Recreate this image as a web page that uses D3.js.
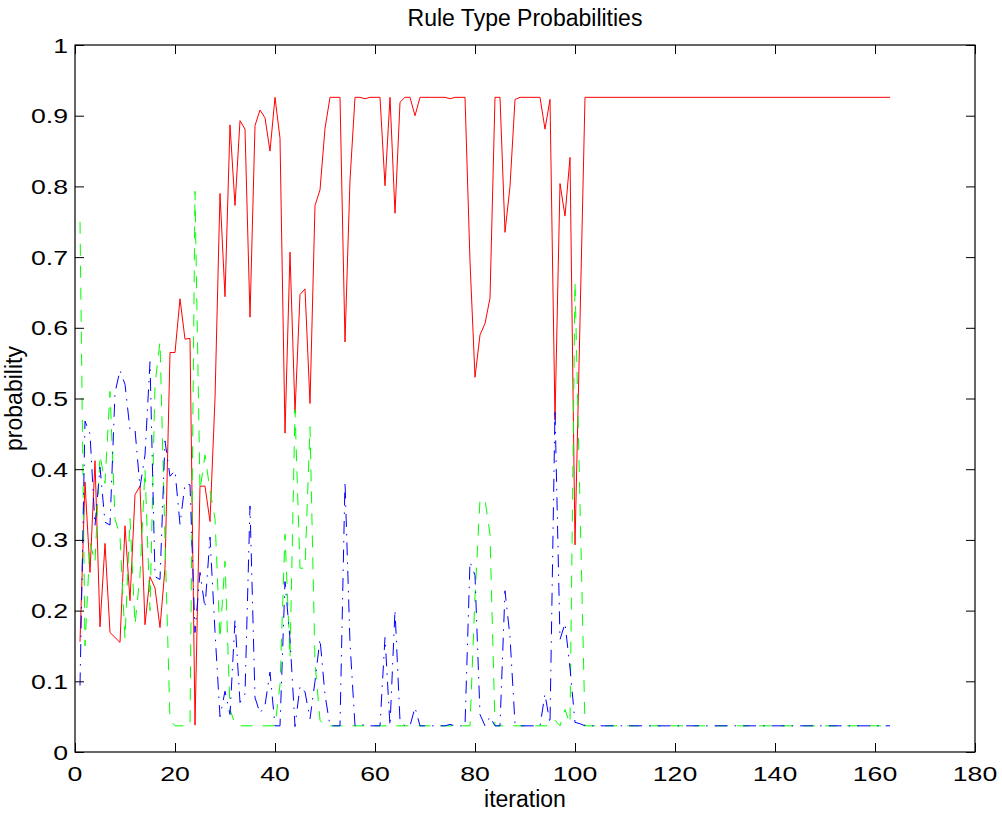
<!DOCTYPE html>
<html>
<head>
<meta charset="utf-8">
<script src="https://cdn.jsdelivr.net/npm/d3@7"></script>
<style>
  body { margin: 0; background: #fff; }
  text { font-family: "Liberation Sans", Arial, sans-serif; fill: #000; }
</style>
</head>
<body>
<div id="chart"></div>
<script>
// probability of each rule type per iteration (iteration 1..163)
var redSeries = [
  0.156, 0.382, 0.254, 0.412, 0.177, 0.295, 0.169, 0.162, 0.155, 0.320,
  0.214, 0.364, 0.376, 0.180, 0.248, 0.232, 0.176, 0.260, 0.565, 0.565,
  0.641, 0.584, 0.585, 0.038, 0.376, 0.376, 0.326, 0.500, 0.790, 0.644,
  0.887, 0.773, 0.893, 0.881, 0.615, 0.886, 0.908, 0.897, 0.850, 0.926,
  0.868, 0.451, 0.707, 0.480, 0.647, 0.655, 0.493, 0.773, 0.795, 0.882,
  0.926, 0.926, 0.926, 0.580, 0.809, 0.926, 0.926, 0.924, 0.926, 0.926,
  0.926, 0.801, 0.926, 0.762, 0.919, 0.926, 0.926, 0.900, 0.926, 0.926,
  0.926, 0.926, 0.926, 0.926, 0.924, 0.926, 0.926, 0.926, 0.694, 0.530,
  0.590, 0.606, 0.642, 0.926, 0.926, 0.735, 0.800, 0.923, 0.926, 0.926,
  0.926, 0.926, 0.926, 0.881, 0.923, 0.470, 0.804, 0.758, 0.841, 0.293,
  0.610, 0.926, 0.926, 0.926, 0.926, 0.926, 0.926, 0.926, 0.926, 0.926,
  0.926, 0.926, 0.926, 0.926, 0.926, 0.926, 0.926, 0.926, 0.926, 0.926,
  0.926, 0.926, 0.926, 0.926, 0.926, 0.926, 0.926, 0.926, 0.926, 0.926,
  0.926, 0.926, 0.926, 0.926, 0.926, 0.926, 0.926, 0.926, 0.926, 0.926,
  0.926, 0.926, 0.926, 0.926, 0.926, 0.926, 0.926, 0.926, 0.926, 0.926,
  0.926, 0.926, 0.926, 0.926, 0.926, 0.926, 0.926, 0.926, 0.926, 0.926,
  0.926, 0.926, 0.926
];

var greenSeries = [
  0.750, 0.150, 0.296, 0.268, 0.420, 0.380, 0.510, 0.330, 0.305, 0.160,
  0.330, 0.180, 0.250, 0.400, 0.200, 0.520, 0.580, 0.300, 0.045, 0.037,
  0.037, 0.037, 0.037, 0.793, 0.370, 0.420, 0.370, 0.330, 0.160, 0.270,
  0.060, 0.040, 0.037, 0.037, 0.037, 0.037, 0.037, 0.037, 0.037, 0.037,
  0.095, 0.308, 0.133, 0.484, 0.260, 0.260, 0.460, 0.127, 0.045, 0.037,
  0.037, 0.037, 0.037, 0.037, 0.037, 0.037, 0.037, 0.037, 0.037, 0.037,
  0.037, 0.037, 0.037, 0.037, 0.037, 0.037, 0.037, 0.037, 0.037, 0.037,
  0.037, 0.037, 0.037, 0.037, 0.037, 0.037, 0.037, 0.037, 0.037, 0.220,
  0.357, 0.357, 0.308, 0.037, 0.037, 0.037, 0.037, 0.037, 0.037, 0.037,
  0.037, 0.037, 0.037, 0.037, 0.037, 0.045, 0.037, 0.060, 0.040, 0.665,
  0.350, 0.037, 0.037, 0.037, 0.037, 0.037, 0.037, 0.037, 0.037, 0.037,
  0.037, 0.037, 0.037, 0.037, 0.037, 0.037, 0.037, 0.037, 0.037, 0.037,
  0.037, 0.037, 0.037, 0.037, 0.037, 0.037, 0.037, 0.037, 0.037, 0.037,
  0.037, 0.037, 0.037, 0.037, 0.037, 0.037, 0.037, 0.037, 0.037, 0.037,
  0.037, 0.037, 0.037, 0.037, 0.037, 0.037, 0.037, 0.037, 0.037, 0.037,
  0.037, 0.037, 0.037, 0.037, 0.037, 0.037, 0.037, 0.037, 0.037, 0.037,
  0.037, 0.037, 0.037
];

var blueSeries = [
  0.094, 0.468, 0.450, 0.320, 0.403, 0.325, 0.321, 0.508, 0.540, 0.520,
  0.456, 0.456, 0.374, 0.420, 0.552, 0.248, 0.244, 0.440, 0.390, 0.398,
  0.322, 0.379, 0.378, 0.169, 0.254, 0.204, 0.304, 0.170, 0.050, 0.086,
  0.053, 0.187, 0.070, 0.082, 0.348, 0.077, 0.055, 0.066, 0.113, 0.037,
  0.037, 0.241, 0.160, 0.036, 0.093, 0.085, 0.047, 0.100, 0.160, 0.081,
  0.037, 0.037, 0.037, 0.383, 0.154, 0.037, 0.037, 0.039, 0.037, 0.037,
  0.037, 0.162, 0.037, 0.201, 0.044, 0.037, 0.037, 0.063, 0.037, 0.037,
  0.037, 0.037, 0.037, 0.037, 0.039, 0.037, 0.037, 0.037, 0.269, 0.250,
  0.053, 0.037, 0.050, 0.037, 0.037, 0.228, 0.163, 0.040, 0.037, 0.037,
  0.037, 0.037, 0.037, 0.082, 0.040, 0.485, 0.159, 0.182, 0.119, 0.042,
  0.040, 0.037, 0.037, 0.037, 0.037, 0.037, 0.037, 0.037, 0.037, 0.037,
  0.037, 0.037, 0.037, 0.037, 0.037, 0.037, 0.037, 0.037, 0.037, 0.037,
  0.037, 0.037, 0.037, 0.037, 0.037, 0.037, 0.037, 0.037, 0.037, 0.037,
  0.037, 0.037, 0.037, 0.037, 0.037, 0.037, 0.037, 0.037, 0.037, 0.037,
  0.037, 0.037, 0.037, 0.037, 0.037, 0.037, 0.037, 0.037, 0.037, 0.037,
  0.037, 0.037, 0.037, 0.037, 0.037, 0.037, 0.037, 0.037, 0.037, 0.037,
  0.037, 0.037, 0.037
];

var xTicks = [0, 20, 40, 60, 80, 100, 120, 140, 160, 180];
var yTicks = [0, 0.1, 0.2, 0.3, 0.4, 0.5, 0.6, 0.7, 0.8, 0.9, 1];

var margin = { top: 45, right: 27, bottom: 65, left: 75 };
var width = 1002 - margin.left - margin.right;
var height = 817 - margin.top - margin.bottom;
var tickLen = 9;

var svg = d3.select("#chart")
  .append("svg")
  .attr("width", 1002)
  .attr("height", 817)
  .append("g")
  .attr("transform", `translate(${margin.left},${margin.top})`);

var x = d3.scaleLinear().domain([0, 180]).range([0, width]);
var y = d3.scaleLinear().domain([0, 1]).range([height, 0]);

function fmt(d) { return d3.format("~g")(d); }

// series lines: red solid, green dashed, blue dash-dot
var series = [
  { values: redSeries, color: "#ff0000", dash: null },
  { values: greenSeries, color: "#00ff00", dash: "12,10" },
  { values: blueSeries, color: "#0000ff", dash: "13,7,1.5,7" }
];

var line = d3.line()
  .x(function(d, i) { return x(i + 1); })
  .y(function(d) { return y(d); });

svg.selectAll(".series")
  .data(series)
  .enter().append("path")
  .attr("class", "series")
  .attr("d", function(d) { return line(d.values); })
  .attr("fill", "none")
  .attr("stroke", function(d) { return d.color; })
  .attr("stroke-width", 1)
  .attr("stroke-dasharray", function(d) { return d.dash; });

// box + inward ticks on all sides
svg.append("rect")
  .attr("x", 0).attr("y", 0)
  .attr("width", width).attr("height", height)
  .attr("fill", "none")
  .attr("stroke", "#000")
  .attr("stroke-width", 1.2);

var xAxisB = d3.axisBottom(x).tickValues(xTicks).tickSizeInner(-tickLen).tickSizeOuter(0).tickFormat("");
var xAxisT = d3.axisTop(x).tickValues(xTicks).tickSizeInner(-tickLen).tickSizeOuter(0).tickFormat("");
var yAxisL = d3.axisLeft(y).tickValues(yTicks).tickSizeInner(-tickLen).tickSizeOuter(0).tickFormat("");
var yAxisR = d3.axisRight(y).tickValues(yTicks).tickSizeInner(-tickLen).tickSizeOuter(0).tickFormat("");

svg.append("g").attr("class", "axis").attr("transform", `translate(0,${height})`).call(xAxisB);
svg.append("g").attr("class", "axis").call(xAxisT);
svg.append("g").attr("class", "axis").call(yAxisL);
svg.append("g").attr("class", "axis").attr("transform", `translate(${width},0)`).call(yAxisR);
svg.selectAll(".axis .domain").remove();
svg.selectAll(".axis line").attr("stroke", "#000");

// tick labels (the reference font is drawn wide, so stretch horizontally)
svg.selectAll(".xLabel")
  .data(xTicks)
  .enter().append("text")
  .attr("class", "xLabel")
  .attr("transform", function(d) { return `translate(${x(d)},${height + 29}) scale(1.3,1)`; })
  .style("text-anchor", "middle")
  .style("font-size", "20.5px")
  .text(fmt);

svg.selectAll(".yLabel")
  .data(yTicks)
  .enter().append("text")
  .attr("class", "yLabel")
  .attr("transform", function(d) { return `translate(-7,${y(d) + 7.5}) scale(1.3,1)`; })
  .style("text-anchor", "end")
  .style("font-size", "20.5px")
  .text(fmt);

svg.append("text")
  .attr("x", width / 2)
  .attr("y", -19)
  .style("text-anchor", "middle")
  .style("font-size", "23px")
  .text("Rule Type Probabilities");

svg.append("text")
  .attr("x", width / 2)
  .attr("y", height + 55)
  .style("text-anchor", "middle")
  .style("font-size", "23px")
  .text("iteration");

svg.append("text")
  .attr("transform", `translate(-53,${height / 2}) rotate(-90)`)
  .style("text-anchor", "middle")
  .style("font-size", "23px")
  .text("probability");
</script>
</body>
</html>
